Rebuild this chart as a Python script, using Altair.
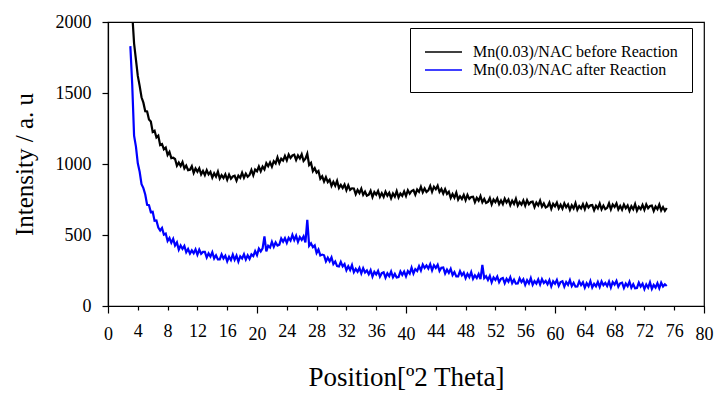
import altair as alt
import pandas as pd

SERIES = ["Mn(0.03)/NAC before Reaction", "Mn(0.03)/NAC after Reaction"]
COLORS = ["#000000", "#0000ff"]

# 2-theta sampling: starts at 3.0 deg, one reading every 0.25 deg
THETA_START = 3.0
THETA_STEP = 0.25

BEFORE = [
    2300, 2060, 1850, 1735, 1620, 1550, 1470, 1432,
    1372, 1370, 1313, 1299, 1226, 1234, 1187, 1200,
    1134, 1141, 1104, 1116, 1064, 1085, 1041, 1044,
    1035, 988, 1010, 986, 1014, 969, 989, 957,
    960, 985, 937, 968, 946, 970, 927, 951,
    922, 957, 927, 945, 904, 935, 911, 946,
    897, 921, 901, 927, 889, 925, 896, 912,
    917, 883, 918, 902, 939, 903, 932, 910,
    923, 958, 920, 961, 949, 982, 949, 982,
    962, 1006, 985, 1012, 981, 1020, 1004, 1047,
    1006, 1037, 1024, 1057, 1026, 1067, 1042, 1060,
    1065, 1028, 1060, 1039, 1069, 1021, 1037, 1072,
    993, 1008, 950, 971, 939, 951, 896, 913,
    877, 907, 873, 889, 846, 874, 847, 881,
    831, 853, 831, 856, 816, 850, 818, 829,
    828, 788, 817, 795, 826, 783, 805, 776,
    783, 811, 767, 802, 784, 810, 769, 795,
    768, 805, 777, 797, 759, 792, 770, 809,
    764, 792, 776, 807, 774, 815, 791, 810,
    817, 784, 820, 804, 840, 801, 828, 803,
    814, 846, 804, 840, 822, 847, 803, 824,
    792, 823, 789, 805, 761, 789, 763, 798,
    749, 773, 754, 782, 745, 782, 754, 768,
    770, 731, 762, 742, 774, 731, 754, 725,
    732, 760, 716, 750, 732, 758, 717, 743,
    717, 756, 729, 750, 711, 742, 719, 755,
    707, 732, 714, 743, 707, 745, 717, 732,
    735, 697, 729, 709, 742, 700, 723, 694,
    701, 729, 685, 720, 702, 728, 687, 713,
    686, 723, 695, 715, 677, 709, 687, 724,
    678, 704, 687, 717, 682, 720, 693, 709,
    711, 674, 706, 687, 721, 681, 707, 682,
    691, 723, 680, 715, 697, 722, 680, 705,
    678, 715, 688, 708, 670, 703, 681, 718,
    672, 699, 682, 712, 677, 715, 688, 704,
    707, 669, 701, 682, 715, 673, 697, 670,
    690,
]

AFTER = [
    1830, 1560, 1200, 1122, 1005, 945, 858, 830,
    785, 713, 710, 661, 664, 600, 602, 552,
    532, 550, 503, 510, 458, 479, 445, 473,
    426, 448, 397, 426, 402, 423, 378, 401,
    369, 392, 372, 399, 361, 397, 368, 381,
    381, 341, 370, 348, 379, 335, 357, 328,
    328, 364, 335, 354, 315, 347, 324, 362,
    325, 355, 313, 350, 335, 364, 327, 357,
    332, 363, 351, 387, 358, 404, 384, 406,
    490, 385, 424, 412, 452, 417, 447, 425,
    432, 475, 453, 478, 444, 480, 461, 501,
    465, 495, 451, 485, 466, 490, 447, 606,
    424, 441, 414, 427, 374, 398, 356, 362,
    357, 314, 340, 315, 342, 295, 313, 281,
    278, 311, 279, 295, 252, 280, 254, 288,
    238, 261, 241, 268, 230, 266, 236, 250,
    224, 252, 207, 241, 222, 247, 206, 231,
    237, 199, 230, 210, 243, 202, 226, 200,
    203, 243, 219, 243, 209, 246, 228, 270,
    229, 260, 247, 281, 250, 292, 268, 286,
    264, 295, 252, 287, 268, 291, 247, 269,
    271, 229, 256, 233, 262, 218, 239, 209,
    209, 245, 216, 235, 196, 227, 203, 239,
    191, 216, 197, 225, 189, 290, 196, 210,
    184, 212, 167, 201, 183, 208, 167, 192,
    198, 160, 191, 171, 203, 161, 185, 157,
    158, 195, 168, 188, 149, 181, 159, 196,
    149, 175, 158, 187, 151, 189, 162, 177,
    153, 182, 139, 174, 157, 183, 142, 169,
    175, 137, 169, 149, 182, 140, 163, 136,
    137, 174, 147, 167, 129, 161, 139, 176,
    130, 156, 139, 169, 134, 173, 147, 163,
    140, 172, 131, 169, 151, 177, 136, 160,
    165, 127, 158, 139, 171, 129, 153, 125,
    127, 164, 137, 157, 119, 152, 129, 167,
    121, 148, 130, 160, 125, 164, 137, 153,
    141,
]

X_TICKS = [0, 4, 8, 12, 16, 20, 24, 28, 32, 36, 40, 44, 48, 52, 56, 60, 64, 68, 72, 76, 80]
Y_TICKS = [0, 500, 1000, 1500, 2000]

rows = []
for name, vals in zip(SERIES, [BEFORE, AFTER]):
    for i, v in enumerate(vals):
        rows.append({"theta": THETA_START + THETA_STEP * i, "intensity": v, "series": name})
df = pd.DataFrame(rows)

FONT = "Liberation Serif"

chart = (
    alt.Chart(df)
    .mark_line(strokeWidth=2.2, clip=True)
    .encode(
        x=alt.X(
            "theta:Q",
            scale=alt.Scale(domain=[0, 80], nice=False, zero=False),
            axis=alt.Axis(
                values=X_TICKS,
                format="d",
                title="Position[º2 Theta]",
                titleFontSize=27,
                titlePadding=21,
                labelFontSize=18,
                labelPadding=12,
                labelOverlap=False,
                labelFlush=False,
                tickSize={"condition": {"test": "datum.value % 20 === 0", "value": 7}, "value": 4},
            ),
        ),
        y=alt.Y(
            "intensity:Q",
            scale=alt.Scale(domain=[0, 2000], nice=False),
            axis=alt.Axis(
                values=Y_TICKS,
                format="d",
                title="Intensity / a. u",
                titleFontSize=25,
                titlePadding=18,
                labelFontSize=18,
                labelPadding=11,
                labelFlush=False,
                tickSize=6,
            ),
        ),
        color=alt.Color(
            "series:N",
            scale=alt.Scale(domain=SERIES, range=COLORS),
            legend=alt.Legend(
                title=None,
                orient="none",
                legendX=302,
                legendY=6,
                direction="vertical",
                symbolType="M-1,0H3.11",
                symbolSize=324,
                symbolStrokeWidth=1.6,
                labelFontSize=16,
                labelFont=FONT,
                labelColor="#000000",
                labelOffset=29,
                labelLimit=400,
                padding=14,
                rowPadding=0,
                strokeColor="#000000",
                fillColor="#ffffff",
            ),
        ),
    )
    .properties(
        width=596,
        height=284,
        autosize=alt.AutoSizeParams(type="none"),
        padding={"left": 108, "top": 22, "right": 12, "bottom": 88},
        background="#ffffff",
    )
    .configure_axis(
        grid=False,
        labelFont=FONT,
        titleFont=FONT,
        labelColor="#000000",
        titleColor="#000000",
        titleFontWeight="normal",
        domainColor="#000000",
        tickColor="#000000",
        domainWidth=1.2,
        tickWidth=1.2,
    )
    .configure_view(stroke="#000000", strokeWidth=1.2)
)

chart.save("out.html", embed_options={"renderer": "svg", "actions": False})
